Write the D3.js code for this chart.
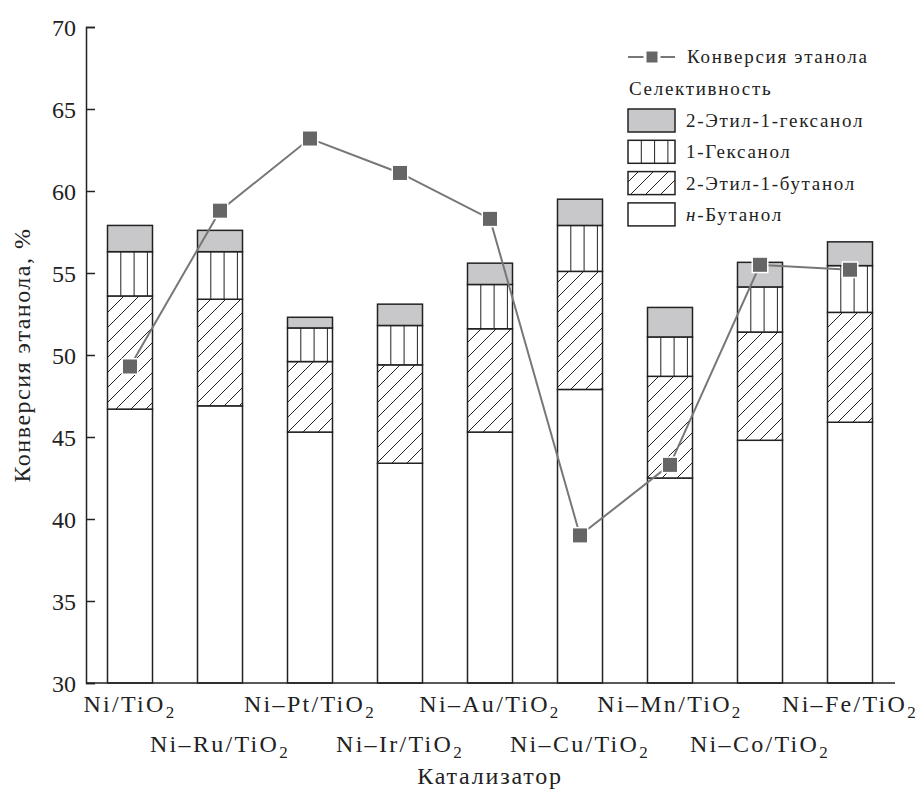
<!DOCTYPE html>
<html lang="ru">
<head>
  <meta charset="utf-8">
  <title>Конверсия этанола</title>
  <style>
    body { margin: 0; background: #fff; }
    text { font-family: "Liberation Serif", "Times New Roman", Tinos, serif; fill: #222; }
  </style>
</head>
<body>
  <script src="https://cdn.jsdelivr.net/npm/d3@7"></script>
  <script>

      // катализаторы
      var categories = ["Ni/TiO2", "Ni–Ru/TiO2", "Ni–Pt/TiO2", "Ni–Ir/TiO2", "Ni–Au/TiO2",
                        "Ni–Cu/TiO2", "Ni–Mn/TiO2", "Ni–Co/TiO2", "Ni–Fe/TiO2"];

      // верхние границы сегментов столбцов (по оси, %)
      var butanolTop      = [46.7, 46.9, 45.3, 43.4, 45.3, 47.9, 42.5, 44.8, 45.9];
      var ethylButanolTop = [53.6, 53.4, 49.6, 49.4, 51.6, 55.1, 48.7, 51.4, 52.6];
      var hexanolTop      = [56.3, 56.3, 51.65, 51.8, 54.3, 57.9, 51.1, 54.15, 55.45];
      var ethylHexanolTop = [57.9, 57.6, 52.3, 53.1, 55.6, 59.5, 52.9, 55.65, 56.9];

      // конверсия этанола
      var conversion = [49.3, 58.8, 63.2, 61.1, 58.3, 39.0, 43.3, 55.5, 55.2];

      var yTicks = [30, 35, 40, 45, 50, 55, 60, 65, 70];

      var w = 922;
      var h = 791;

      var svg = d3.select("body").append("svg").attr("width", w).attr("height", h);

      var defs = svg.append("defs");
      var hatch = defs.append("pattern")
        .attr("id", "hatch")
        .attr("patternUnits", "userSpaceOnUse")
        .attr("width", 15).attr("height", 15);
      hatch.append("rect").attr("width", 15).attr("height", 15).attr("fill", "#fff");
      hatch.append("path")
        .attr("d", "M0,15 L15,0 M-4,4 L4,-4 M11,19 L19,11")
        .attr("stroke", "#222").attr("stroke-width", 1);

      var x = d3.scaleBand().domain(categories).range([85, 895])
        .paddingInner(0.5).paddingOuter(0.25);
      var y = d3.scaleLinear().domain([30, 70]).range([683, 27]);

      // сегменты столбцов
      var layers = [
        { lo: null, hi: butanolTop, fill: "#fff" },
        { lo: butanolTop, hi: ethylButanolTop, fill: "url(#hatch)" },
        { lo: ethylButanolTop, hi: hexanolTop, fill: "#fff", vlines: true },
        { lo: hexanolTop, hi: ethylHexanolTop, fill: "#c8c8ca" }
      ];

      var bars = svg.append("g");
      layers.forEach(function(L){
        var g = bars.append("g");
        g.selectAll("rect")
          .data(categories)
          .enter()
          .append("rect")
          .attr("x", function(d){ return x(d); })
          .attr("width", x.bandwidth())
          .attr("y", function(d, i){ return y(L.hi[i]); })
          .attr("height", function(d, i){
            var lo = L.lo ? L.lo[i] : 30;
            return y(lo) - y(L.hi[i]);
          })
          .attr("fill", L.fill)
          .attr("stroke", "#222")
          .attr("stroke-width", 1.5);
        if (L.vlines) {
          categories.forEach(function(d, i){
            [1, 2, 3].forEach(function(k){
              g.append("line")
                .attr("x1", x(d) + k * 13.3).attr("x2", x(d) + k * 13.3)
                .attr("y1", y(L.hi[i])).attr("y2", y(L.lo[i]))
                .attr("stroke", "#222").attr("stroke-width", 1);
            });
          });
        }
      });

      // оси
      var yAxis = d3.axisRight(y).tickValues(yTicks).tickSize(9).tickFormat(d3.format("d"));
      var ya = svg.append("g").attr("transform", "translate(86,0)").call(yAxis);
      ya.select(".domain").attr("stroke", "#222").attr("stroke-width", 1.5);
      ya.selectAll(".tick line").attr("stroke", "#222").attr("stroke-width", 1.5);
      ya.selectAll(".tick text")
        .attr("x", -10).attr("dy", "0.35em")
        .attr("text-anchor", "end")
        .style("font-size", "24px").attr("fill", "#222");

      svg.append("line")
        .attr("x1", 86).attr("x2", 895)
        .attr("y1", y(30)).attr("y2", y(30))
        .attr("stroke", "#222").attr("stroke-width", 1.5);

      // подписи категорий
      var xl = svg.append("g");
      categories.forEach(function(d, i){
        var t = xl.append("text")
          .attr("x", x(d) + x.bandwidth() / 2)
          .attr("y", i % 2 === 0 ? 712 : 752)
          .attr("text-anchor", "middle")
          .style("font-size", "24px")
          .style("letter-spacing", "2.3px");
        t.append("tspan").text(d.slice(0, -1));
        t.append("tspan").attr("dy", 6).style("font-size", "17px").text("2");
      });

      svg.append("text")
        .attr("x", 490).attr("y", 784)
        .attr("text-anchor", "middle")
        .style("font-size", "24px").style("letter-spacing", "1.8px")
        .text("Катализатор");

      svg.append("text")
        .attr("transform", "translate(30,355) rotate(-90)")
        .attr("text-anchor", "middle")
        .style("font-size", "24px").style("letter-spacing", "1.5px")
        .text("Конверсия этанола, %");

      // линия конверсии
      var line = d3.line()
        .x(function(d, i){ return x(categories[i]) + x.bandwidth() / 2; })
        .y(function(d){ return y(d); });

      svg.append("path")
        .datum(conversion)
        .attr("d", line)
        .attr("fill", "none")
        .attr("stroke", "#777")
        .attr("stroke-width", 2);

      svg.selectAll("rect.pt")
        .data(conversion)
        .enter()
        .append("rect")
        .attr("class", "pt")
        .attr("x", function(d, i){ return x(categories[i]) + x.bandwidth() / 2 - 7; })
        .attr("y", function(d){ return y(d) - 7; })
        .attr("width", 14).attr("height", 14)
        .attr("fill", "#666")
        .attr("stroke", "#fff")
        .attr("stroke-width", 3)
        .attr("paint-order", "stroke");

      // легенда
      var lg = svg.append("g");
      lg.append("line").attr("x1", 628).attr("x2", 675).attr("y1", 57).attr("y2", 57)
        .attr("stroke", "#777").attr("stroke-width", 2);
      lg.append("rect").attr("x", 645).attr("y", 50).attr("width", 14).attr("height", 14)
        .attr("fill", "#666").attr("stroke", "#fff").attr("stroke-width", 3);
      lg.append("text").attr("x", 687).attr("y", 63)
        .style("font-size", "19px").style("letter-spacing", "1.7px")
        .text("Конверсия этанола");
      lg.append("text").attr("x", 629).attr("y", 95)
        .style("font-size", "19px").style("letter-spacing", "1.7px")
        .text("Селективность");

      var legendItems = [
        { name: "2-Этил-1-гексанол", fill: "#c8c8ca" },
        { name: "1-Гексанол", fill: "#fff", vlines: true },
        { name: "2-Этил-1-бутанол", fill: "url(#hatch)" },
        { name: "Бутанол", fill: "#fff", italic: "н-" }
      ];

      legendItems.forEach(function(it, i){
        var yy = 109 + i * 31.3;
        lg.append("rect").attr("x", 628).attr("y", yy).attr("width", 47).attr("height", 23)
          .attr("fill", it.fill).attr("stroke", "#222").attr("stroke-width", 1.5);
        if (it.vlines) {
          [1, 2, 3].forEach(function(k){
            lg.append("line").attr("x1", 628 + k * 13.3).attr("x2", 628 + k * 13.3)
              .attr("y1", yy).attr("y2", yy + 23)
              .attr("stroke", "#222").attr("stroke-width", 1);
          });
        }
        var t = lg.append("text").attr("x", 686).attr("y", yy + 18)
          .style("font-size", "19px").style("letter-spacing", "1.7px");
        if (it.italic) t.append("tspan").style("font-style", "italic").text(it.italic);
        t.append("tspan").text(it.name);
      });

  </script>
</body>
</html>
